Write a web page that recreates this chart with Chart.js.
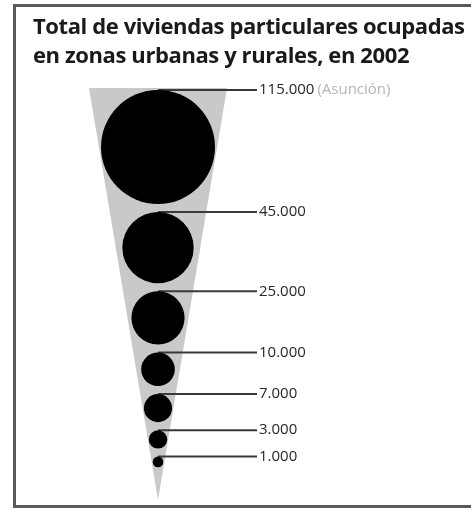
<!DOCTYPE html>
<html>
<head>
<meta charset="utf-8">
<script src="https://cdn.jsdelivr.net/npm/chart.js@4"></script>
<style>
  body { margin: 0; background: #fff; }
  #marco {
    position: absolute; left: 13px; top: 4px; width: 470px; height: 498px;
    border-left: 3px solid #5a5a5a; border-top: 3px solid #5a5a5a; border-bottom: 3px solid #5a5a5a;
  }
  #titulo {
    position: absolute; left: 33px; top: 11px; margin: 0;
    font-family: "Open Sans", sans-serif; font-weight: 700; font-size: 22px;
    line-height: 29px; color: #1a1a1a; letter-spacing: -0.4px; white-space: nowrap;
  }
  #grafico { position: absolute; left: 0; top: 0; }
</style>
</head>
<body>
<div id="marco"></div>
<canvas id="grafico" width="471" height="509"></canvas>
<h1 id="titulo">Total de viviendas particulares ocupadas<br>en zonas urbanas y rurales, en 2002</h1>
<script>
// viviendas por zona (valores del grafico)
var valores = [115000, 45000, 25000, 10000, 7000, 3000, 1000];
var etiquetas = ['115.000', '45.000', '25.000', '10.000', '7.000', '3.000', '1.000'];
var notas = ['(Asunción)', '', '', '', '', '', ''];

var radioMax = 57;
var separacion = 8;

// radio proporcional al area, circulos apilados uno debajo del otro
var radios = valores.map(function (v) { return radioMax * Math.sqrt(v / valores[0]); });
var puntos = [];
var y = 0;
for (var i = 0; i < valores.length; i++) {
  if (i == 0) {
    y = radios[0] + 2;
  } else {
    y = y + radios[i - 1] + separacion + radios[i];
  }
  puntos.push({ x: 0, y: y, r: radios[i] });
}

var embudo = {
  id: 'embudo',
  beforeDatasetsDraw: function (chart) {
    var ctx = chart.ctx;
    var area = chart.chartArea;
    var cx = chart.scales.x.getPixelForValue(0);
    ctx.save();
    ctx.fillStyle = '#c9c9c9';
    ctx.beginPath();
    ctx.moveTo(area.left, area.top);
    ctx.lineTo(area.right, area.top);
    ctx.lineTo(cx, area.bottom);
    ctx.closePath();
    ctx.fill();

    // lineas guia y etiquetas
    var meta = chart.getDatasetMeta(0);
    ctx.strokeStyle = '#3a3a3a';
    ctx.lineWidth = 2;
    ctx.font = '15px "Open Sans"';
    ctx.textBaseline = 'middle';
    meta.data.forEach(function (p, k) {
      var top = p.y - puntos[k].r;
      ctx.beginPath();
      ctx.moveTo(p.x, top);
      ctx.lineTo(257, top);
      ctx.stroke();
      ctx.fillStyle = '#262626';
      ctx.fillText(etiquetas[k], 259, top);
      if (notas[k]) {
        var w = ctx.measureText(etiquetas[k]).width;
        ctx.fillStyle = '#b5b5b5';
        ctx.fillText(notas[k], 262 + w, top);
      }
    });
    ctx.restore();
  }
};

new Chart(document.getElementById('grafico'), {
  type: 'bubble',
  data: {
    labels: etiquetas,
    datasets: [{
      data: puntos,
      backgroundColor: '#000',
      borderColor: '#000',
      borderWidth: 0,
      hoverRadius: 0,
      clip: false
    }]
  },
  options: {
    responsive: false,
    animation: false,
    layout: { autoPadding: false, padding: { left: 89, right: 244, top: 88, bottom: 9 } },
    scales: {
      x: { display: false, min: -1, max: 1 },
      y: { display: false, min: 0, max: 412, reverse: true }
    },
    plugins: {
      legend: { display: false },
      tooltip: { enabled: false }
    }
  },
  plugins: [embudo]
});
</script>
</body>
</html>
